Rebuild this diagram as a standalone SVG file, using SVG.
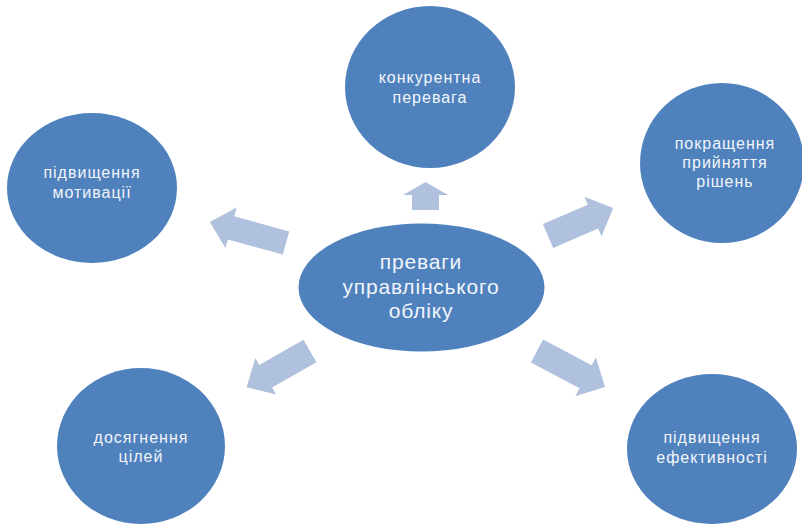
<svg xmlns="http://www.w3.org/2000/svg" width="802" height="525" viewBox="0 0 802 525">
<style>
.node{fill:#4F81BD;}
.arr{fill:#B0C1DD;}
.t{font-family:"Liberation Sans",Arial,sans-serif;font-size:16px;letter-spacing:1px;fill:#F2F5FA;text-anchor:middle;}
.tc{font-size:21px;letter-spacing:0.8px;}
</style>
<rect width="802" height="525" fill="#FFFFFF"/>
<g id="connectors">
<path class="arr" transform="translate(425.5,210) rotate(-90)" d="M0,-13.5 L15,-13.5 L15,-22.5 L28,0 L15,22.5 L15,13.5 L0,13.5 Z"/>
<path class="arr" transform="translate(548,236) rotate(-23.3)" d="M0,-13 L49,-13 L49,-21.5 L71,0 L49,21.5 L49,13 L0,13 Z"/>
<path class="arr" transform="translate(537,351) rotate(27.9)" d="M0,-13 L55,-13 L55,-22 L77,0 L55,22 L55,13 L0,13 Z"/>
<path class="arr" transform="translate(310,351) rotate(150.3)" d="M0,-13 L51,-13 L51,-21 L73,0 L51,21 L51,13 L0,13 Z"/>
<path class="arr" transform="translate(286,243) rotate(195.4)" d="M0,-12 L57,-12 L57,-21 L79,0 L57,21 L57,12 L0,12 Z"/>
</g>
<g id="center">
<ellipse class="node" cx="421.5" cy="287.5" rx="123" ry="64"/>
<text class="t tc" x="421" y="269">преваги</text>
<text class="t tc" x="421" y="294">управлінського</text>
<text class="t tc" x="421" y="318">обліку</text>
</g>
<g id="top">
<ellipse class="node" cx="430" cy="87" rx="85" ry="81"/>
<text class="t" x="430" y="83">конкурентна</text>
<text class="t" x="430" y="103">перевага</text>
</g>
<g id="top-right">
<ellipse class="node" cx="722" cy="163" rx="82" ry="80"/>
<text class="t" x="725" y="149">покращення</text>
<text class="t" x="725" y="168">прийняття</text>
<text class="t" x="725" y="187">рішень</text>
</g>
<g id="top-left">
<ellipse class="node" cx="92" cy="188" rx="85" ry="75"/>
<text class="t" x="92" y="178">підвищення</text>
<text class="t" x="92" y="198">мотивації</text>
</g>
<g id="bottom-left">
<ellipse class="node" cx="141" cy="446" rx="84" ry="78"/>
<text class="t" x="141" y="443">досягнення</text>
<text class="t" x="141" y="462">цілей</text>
</g>
<g id="bottom-right">
<ellipse class="node" cx="712" cy="449" rx="85" ry="75"/>
<text class="t" x="712" y="443">підвищення</text>
<text class="t" x="712" y="463">ефективності</text>
</g>
</svg>
